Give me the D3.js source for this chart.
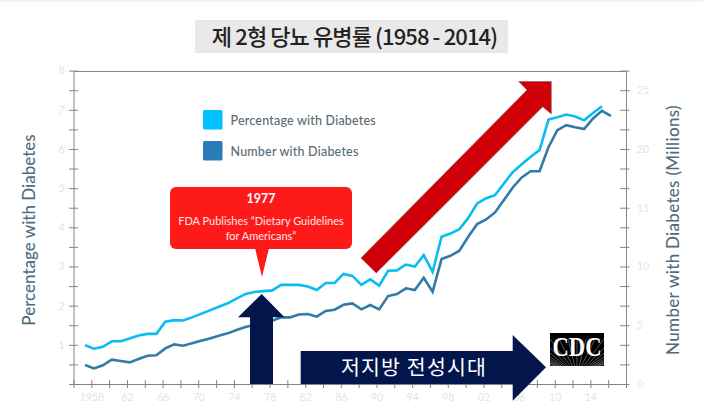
<!DOCTYPE html>
<html>
<head>
<meta charset="utf-8">
<script src="https://cdn.jsdelivr.net/npm/d3@7"></script>
<style>
  html, body { margin: 0; padding: 0; background: #fff; }
  svg { display: block; }
  text { font-family: Lato, "Noto Sans", sans-serif; }
</style>
</head>
<body>
<div id="chart"></div>
<script>
// values, one per year step, starting just before the 1958 tick
const firstYear = 1957.3;
const pctDiabetes = [
  0.99, 0.90, 0.95, 1.09, 1.09, 1.16, 1.24, 1.28, 1.28, 1.59,
  1.63, 1.62, 1.70, 1.79, 1.88, 1.97, 2.06, 2.18, 2.30, 2.35,
  2.37, 2.39, 2.53, 2.53, 2.53, 2.49, 2.40, 2.58, 2.58, 2.81,
  2.76, 2.53, 2.67, 2.51, 2.89, 2.90, 3.05, 3.00, 3.29, 2.86,
  3.76, 3.84, 3.95, 4.24, 4.61, 4.74, 4.82, 5.12, 5.41, 5.61,
  5.80, 5.97, 6.75, 6.81, 6.88, 6.83, 6.73, 6.92, 7.09
];
const numDiabetes = [
  1.62, 1.33, 1.59, 2.07, 1.96, 1.84, 2.13, 2.41, 2.44, 3.03,
  3.37, 3.26, 3.46, 3.68, 3.88, 4.11, 4.31, 4.59, 4.85, 5.04,
  5.16, 5.39, 5.67, 5.67, 5.92, 5.95, 5.73, 6.21, 6.32, 6.74,
  6.86, 6.35, 6.72, 6.35, 7.48, 7.65, 8.14, 7.99, 9.04, 7.85,
  10.63, 10.91, 11.34, 12.53, 13.61, 14.00, 14.60, 15.65, 16.72, 17.57,
  18.10, 18.10, 20.15, 21.60, 22.02, 21.85, 21.70, 22.60, 23.24, 22.82
];
const leftLabels = [1, 2, 3, 4, 5, 6, 7, 8];
const rightLabels = [0, 5, 10, 15, 20, 25];
const yearLabels = [1958, 1962, 1966, 1970, 1974, 1978, 1982, 1986, 1990, 1994, 1998, 2002, 2006, 2010, 2014];
const legendNames = ["Percentage with Diabetes", "Number with Diabetes"];

const cyan = "#08bdf0", blue = "#337aa6", navy = "#03164c", red = "#ff1a1a", axisGrey = "#858585";

const svg = d3.select("#chart").append("svg").attr("width", 703).attr("height", 416);

// faint page edge along the top
svg.append("rect").attr("width", 703).attr("height", 2).attr("fill", "#eef2f8");

const x = d3.scaleLinear().domain([1956, 2018]).range([73.5, 626]);
const yLeft = d3.scaleLinear().domain([0, 8]).range([384, 70.6]);
const yRight = d3.scaleLinear().domain([0, 80 / 3]).range([384, 70.6]);

// title
svg.append("rect").attr("x", 195).attr("y", 20).attr("width", 313).attr("height", 33).attr("fill", "#e9e9e9");
svg.append("text").attr("x", 354.5).attr("y", 44.5)
  .attr("text-anchor", "middle")
  .style("font-family", "'Noto Sans CJK KR'")
  .style("font-size", "22px")
  .style("font-weight", 500)
  .style("letter-spacing", "-0.9px")
  .attr("fill", "#222")
  .text("제 2형 당뇨 유병률 (1958 - 2014)");

// frame top
svg.append("line").attr("x1", 73.5).attr("x2", 626).attr("y1", 71.5).attr("y2", 71.5)
  .attr("stroke", axisGrey).attr("stroke-width", 1);

function styleAxis(g, x1, x2) {
  g.select(".domain").attr("stroke", axisGrey);
  g.selectAll(".tick line").attr("stroke", axisGrey).attr("x1", x1).attr("x2", x2);
}

const leftAxis = d3.axisLeft(yLeft).tickValues(d3.range(0, 8.5, 0.5)).tickSize(0).tickPadding(9)
  .tickFormat(d => leftLabels.includes(d) ? d : "");
svg.append("g").attr("transform", "translate(73.5,0)").call(leftAxis)
  .call(g => styleAxis(g, -4.5, 4.5));

const rightAxis = d3.axisRight(yRight).tickValues(d3.range(0, 27, 5 / 3)).tickSize(0).tickPadding(11)
  .tickFormat(d => {
    const r = Math.round(d);
    return Math.abs(d - r) < 0.01 && rightLabels.includes(r) ? r : "";
  });
svg.append("g").attr("transform", "translate(626,0)").call(rightAxis)
  .call(g => styleAxis(g, -6, 3.5));

const bottomAxis = d3.axisBottom(x).tickValues(d3.range(1956, 2019, 2)).tickSize(0).tickPadding(10)
  .tickFormat(d => {
    if (!yearLabels.includes(d)) return "";
    return d === 1958 ? d : String(d).slice(2);
  });
svg.append("g").attr("transform", "translate(0,384)").call(bottomAxis)
  .call(g => {
    g.select(".domain").attr("stroke", axisGrey);
    g.selectAll(".tick line").attr("stroke", axisGrey).attr("y1", -4).attr("y2", 4);
  });

svg.selectAll(".tick text")
  .style("font-family", "Lato")
  .style("font-size", "10.5px")
  .attr("fill", "#e4e4e4");

// axis titles
svg.append("text").attr("transform", "translate(35,230) rotate(-90)")
  .attr("text-anchor", "middle")
  .style("font-size", "17px").style("font-weight", 500)
  .attr("fill", "#4f6b7c").text("Percentage with Diabetes");
svg.append("text").attr("transform", "translate(679,230) rotate(-90)")
  .attr("text-anchor", "middle")
  .style("font-size", "17px").style("font-weight", 500).style("letter-spacing", "0.3px")
  .attr("fill", "#4f6b7c").text("Number with Diabetes (Millions)");

// data lines
const lineLeft = d3.line().x((d, i) => x(firstYear + i)).y(d => yLeft(d));
const lineRight = d3.line().x((d, i) => x(firstYear + i)).y(d => yRight(d));

svg.append("path").datum(numDiabetes).attr("d", lineRight)
  .attr("fill", "none").attr("stroke", blue).attr("stroke-width", 2.6);
svg.append("path").datum(pctDiabetes).attr("d", lineLeft)
  .attr("fill", "none").attr("stroke", cyan).attr("stroke-width", 2.6);

// legend
const legend = svg.selectAll(".legend").data(legendNames).enter().append("g")
  .attr("transform", (d, i) => `translate(203,${110 + i * 31})`);
legend.append("rect").attr("width", 19.5).attr("height", 19.5).attr("rx", 1.5)
  .attr("fill", (d, i) => i === 0 ? "#00c2ff" : "#2a7cb6");
legend.append("text").attr("x", 27.5).attr("y", 14.5)
  .style("font-size", "12.5px").style("font-weight", 500).style("letter-spacing", "0.2px")
  .attr("fill", "#5b6b76").text(d => d);

// callout
svg.append("path")
  .attr("d", "M255,248 L262,277 L269,248 Z").attr("fill", red);
svg.append("rect").attr("x", 170).attr("y", 187).attr("width", 182).attr("height", 62).attr("rx", 6).attr("fill", red);
svg.append("text").attr("x", 261).attr("y", 203).attr("text-anchor", "middle")
  .style("font-size", "12.5px").style("font-weight", 700).attr("fill", "#fff").text("1977");
svg.append("text").attr("x", 261).attr("y", 225).attr("text-anchor", "middle")
  .style("font-size", "11px").attr("fill", "#ffe6e6").text("FDA Publishes \u201CDietary Guidelines");
svg.append("text").attr("x", 261).attr("y", 240).attr("text-anchor", "middle")
  .style("font-size", "11px").attr("fill", "#ffe6e6").text("for Americans\u201D");

// arrows
svg.append("polygon")
  .attr("points", "361,258 527,90 518.7,81.5 551.3,81.5 551.3,114 542.7,106.7 376.3,273")
  .attr("fill", "#cf0008").attr("stroke", "#7a5a66").attr("stroke-width", 0.6);
svg.append("polygon")
  .attr("points", "261.7,294 284.5,317.3 273,317.3 273,384 250,384 250,317.3 238,317.3")
  .attr("fill", navy);
svg.append("polygon")
  .attr("points", "300.7,351 512.7,351 512.7,335 546,367.3 512.7,400.7 512.7,384 300.7,384")
  .attr("fill", navy);
svg.append("text").attr("x", 414).attr("y", 375).attr("text-anchor", "middle")
  .style("font-family", "'Noto Sans CJK KR'")
  .style("font-size", "20.5px").style("letter-spacing", "1.2px")
  .attr("fill", "#fff").text("저지방 전성시대");

// CDC logo
const logo = svg.append("g").attr("transform", "translate(550,333)");
svg.append("clipPath").attr("id", "logoClip").append("rect").attr("width", 54).attr("height", 33);
logo.append("rect").attr("width", 54).attr("height", 33).attr("fill", "#000");
logo.append("g").attr("clip-path", "url(#logoClip)")
  .selectAll("line").data(d3.range(-10, 11)).enter().append("line")
  .attr("x1", d => 27 + d * 2.2).attr("y1", 33)
  .attr("x2", d => 27 + d * 9).attr("y2", 6)
  .attr("stroke", "#a8a8a8").attr("stroke-width", 0.5);
logo.append("text").attr("x", 27).attr("y", 23).attr("text-anchor", "middle")
  .style("font-family", "'Liberation Serif'")
  .style("font-size", "27px").style("font-weight", 700)
  .attr("textLength", 49).attr("lengthAdjust", "spacingAndGlyphs")
  .attr("fill", "#fff").text("CDC");
</script>
</body>
</html>
